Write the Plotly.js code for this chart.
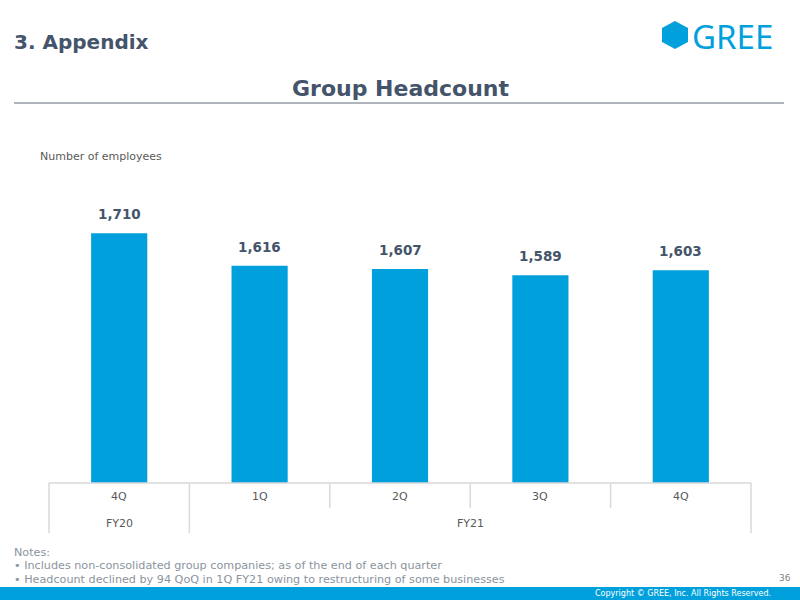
<!DOCTYPE html>
<html>
<head>
<meta charset="utf-8">
<script src="https://cdn.plot.ly/plotly-3.0.1.min.js"></script>
<style>
  html, body { margin: 0; padding: 0; background: #ffffff; }
  #chart { width: 800px; height: 600px; }
</style>
</head>
<body>
<div id="chart"></div>
<script>
// Group headcount by quarter (number of employees)
const fiscalYears = ['FY20', 'FY21', 'FY21', 'FY21', 'FY21'];
const quarters = ['4Q', '1Q', '2Q', '3Q', '4Q'];
const headcount = [1710, 1616, 1607, 1589, 1603];
const notes = [
  'Notes:',
  '\u2022 Includes non-consolidated group companies; as of the end of each quarter',
  '\u2022 Headcount declined by 94 QoQ in 1Q FY21 owing to restructuring of some businesses'
];

const categories = fiscalYears.map((fy, i) => fy + ' ' + quarters[i]);

// Page geometry: plot area spans 49..751 px horizontally, 200..483 px vertically
const W = 800, H = 600;
const L = 49, R = 49, T = 200, B = 117;
const plotW = W - L - R, plotH = H - T - B;
const px = x => (x - L) / plotW;           // page pixel -> paper x
const py = y => (H - B - y) / plotH;       // page pixel -> paper y

const FONT = 'DejaVu Sans, Verdana, sans-serif';
const SLATE = '#44546a';
const GREY_TEXT = '#595959';
const BLUE = '#00a0dc';
const GRID = '#d9d9d9';

const trace = {
  type: 'bar',
  x: categories,
  y: headcount,
  marker: { color: BLUE },
  width: 0.4,
  hoverinfo: 'skip'
};

const annotations = [];
const shapes = [];

// value labels above bars
headcount.forEach((v, i) => {
  annotations.push({
    x: categories[i], y: v, xref: 'x', yref: 'y',
    text: '<b>' + v.toLocaleString('en-US') + '</b>',
    showarrow: false, yanchor: 'bottom', yshift: 9,
    font: { family: FONT, size: 13.5, color: SLATE }
  });
});

// quarter row of the category table
quarters.forEach((q, i) => {
  annotations.push({
    x: categories[i], xref: 'x', y: py(496), yref: 'paper',
    text: q, showarrow: false, yanchor: 'middle',
    font: { family: FONT, size: 11, color: GREY_TEXT }
  });
});

// fiscal-year row: one label per run of equal years
const groups = [];
fiscalYears.forEach((fy, i) => {
  const g = groups[groups.length - 1];
  if (g && g.fy === fy) g.end = i; else groups.push({ fy, start: i, end: i });
});
groups.forEach(g => {
  annotations.push({
    x: (g.start + g.end) / 2, xref: 'x', y: py(523), yref: 'paper',
    text: g.fy, showarrow: false, yanchor: 'middle',
    font: { family: FONT, size: 11, color: GREY_TEXT }
  });
});

// table lines
shapes.push({ type: 'line', xref: 'paper', yref: 'paper', x0: 0, x1: 1, y0: 0, y1: 0,
  line: { color: GRID, width: 1.5 } });
const groupEdges = new Set();
groups.forEach(g => { groupEdges.add(g.start); groupEdges.add(g.end + 1); });
for (let k = 0; k <= categories.length; k++) {
  const full = groupEdges.has(k);
  shapes.push({ type: 'line', xref: 'paper', yref: 'paper',
    x0: k / categories.length, x1: k / categories.length,
    y0: 0, y1: py(full ? 533 : 508),
    line: { color: GRID, width: 1.5 } });
}

// header rule
shapes.push({ type: 'line', xref: 'paper', yref: 'paper',
  x0: px(14), x1: px(784), y0: py(103), y1: py(103),
  line: { color: '#5f6a75', width: 1 } });

// logo hexagon
const hex = [[675, 21], [688, 28], [688, 42], [675, 49], [662, 42], [662, 28]];
shapes.push({ type: 'path', xref: 'paper', yref: 'paper',
  path: 'M ' + hex.map(p => px(p[0]) + ',' + py(p[1])).join(' L ') + ' Z',
  fillcolor: BLUE, line: { width: 0 } });

// footer band
shapes.push({ type: 'rect', xref: 'paper', yref: 'paper',
  x0: px(0), x1: px(800), y0: py(600), y1: py(587),
  fillcolor: BLUE, line: { width: 0 } });

// page texts
annotations.push(
  { text: '<b>3. Appendix</b>', xref: 'paper', yref: 'paper', x: px(12), y: py(42),
    xanchor: 'left', yanchor: 'middle', showarrow: false,
    font: { family: FONT, size: 20, color: SLATE } },
  { text: '<b>Group Headcount</b>', xref: 'paper', yref: 'paper', x: px(400), y: py(88),
    xanchor: 'center', yanchor: 'middle', showarrow: false,
    font: { family: FONT, size: 22, color: SLATE } },
  { text: 'GREE', xref: 'paper', yref: 'paper', x: px(690), y: py(36),
    xanchor: 'left', yanchor: 'middle', showarrow: false,
    font: { family: 'Noto Sans, sans-serif', size: 33, color: BLUE } },
  { text: 'Number of employees', xref: 'paper', yref: 'paper', x: px(38), y: py(156),
    xanchor: 'left', yanchor: 'middle', showarrow: false,
    font: { family: FONT, size: 11, color: GREY_TEXT } },
  { text: '36', xref: 'paper', yref: 'paper', x: px(793), y: py(578),
    xanchor: 'right', yanchor: 'middle', showarrow: false,
    font: { family: FONT, size: 9, color: '#7f7f7f' } },
  { text: 'Copyright \u00a9 GREE, Inc. All Rights Reserved.', xref: 'paper', yref: 'paper',
    x: px(773), y: py(593.5), xanchor: 'right', yanchor: 'middle', showarrow: false,
    font: { family: FONT, size: 8, color: '#ffffff' } }
);
notes.forEach((n, i) => {
  annotations.push({ text: n, xref: 'paper', yref: 'paper', x: px(12), y: py(552 + i * 13.5),
    xanchor: 'left', yanchor: 'middle', showarrow: false,
    font: { family: FONT, size: 11.2, color: '#8a949e' } });
});

const layout = {
  width: W, height: H,
  margin: { l: L, r: R, t: T, b: B, pad: 0 },
  paper_bgcolor: '#ffffff',
  plot_bgcolor: '#ffffff',
  showlegend: false,
  xaxis: { type: 'category', range: [-0.5, categories.length - 0.5],
    showticklabels: false, showgrid: false, zeroline: false, showline: false, ticks: '' },
  yaxis: { range: [990, 990 + plotH / 0.347], visible: false, showgrid: false, zeroline: false },
  annotations, shapes,
  bargap: 0.6
};

Plotly.newPlot('chart', [trace], layout, { staticPlot: true, displayModeBar: false });
</script>
</body>
</html>
